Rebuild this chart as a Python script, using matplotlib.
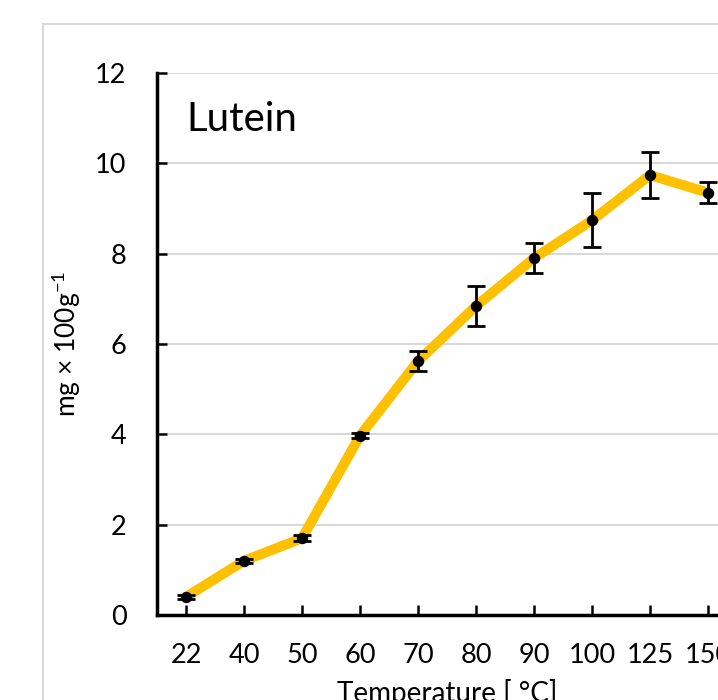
import matplotlib.pyplot as plt
from matplotlib.patches import Rectangle

temps = ["22", "40", "50", "60", "70", "80", "90", "100", "125", "150"]
lutein = [0.40, 1.20, 1.70, 3.97, 5.62, 6.84, 7.90, 8.74, 9.74, 9.35]
lutein_err = [0.04, 0.05, 0.07, 0.05, 0.22, 0.45, 0.33, 0.60, 0.50, 0.23]

plt.rcParams['font.family'] = ['Lato', 'DejaVu Sans']

fig = plt.figure(figsize=(7.18, 7.0), dpi=100)

# light grey chart frame (continues past the crop)
fig.patches.append(Rectangle((43 / 718, -0.1), 1.0, (700 - 24) / 700 + 0.1,
                             transform=fig.transFigure, fill=False,
                             edgecolor='#d9d9d9', linewidth=1.5))

ax = fig.add_axes([157 / 718, 85 / 700, 580 / 718, 542 / 700])
x = list(range(len(temps)))
ax.plot(x, lutein, color='#FFC000', linewidth=7.2, solid_capstyle='butt', zorder=3)
ax.errorbar(x, lutein, yerr=lutein_err, fmt='o', color='black', markersize=7.2,
            ecolor='black', elinewidth=2, capsize=6.5, capthick=2, zorder=4)

ax.set_xlim(-0.5, len(temps) - 0.5)
ax.set_ylim(0, 12)
ax.set_yticks([0, 2, 4, 6, 8, 10, 12])
ax.set_xticks(x)
ax.set_xticklabels(temps)
ax.yaxis.grid(True, color='#d9d9d9', linewidth=1.5)
ax.set_axisbelow(True)

for side in ['top', 'right']:
    ax.spines[side].set_visible(False)
for side in ['left', 'bottom']:
    ax.spines[side].set_linewidth(2.5)
    ax.spines[side].set_color('black')

ax.tick_params(axis='x', direction='in', length=7, width=1.8, pad=20, labelsize=19.5)
ax.tick_params(axis='y', direction='in', length=7, width=1.8, pad=22, labelsize=19.5)

ax.text(0.05, 0.915, "Lutein", transform=ax.transAxes, fontsize=29,
        ha='left', va='center')
ax.set_ylabel("mg × 100g$^{\\mathregular{-1}}$", fontsize=19, labelpad=9)
ax.set_xlabel("Temperature [ °C]", fontsize=20, labelpad=8)

fig.savefig("out.png", dpi=100)
